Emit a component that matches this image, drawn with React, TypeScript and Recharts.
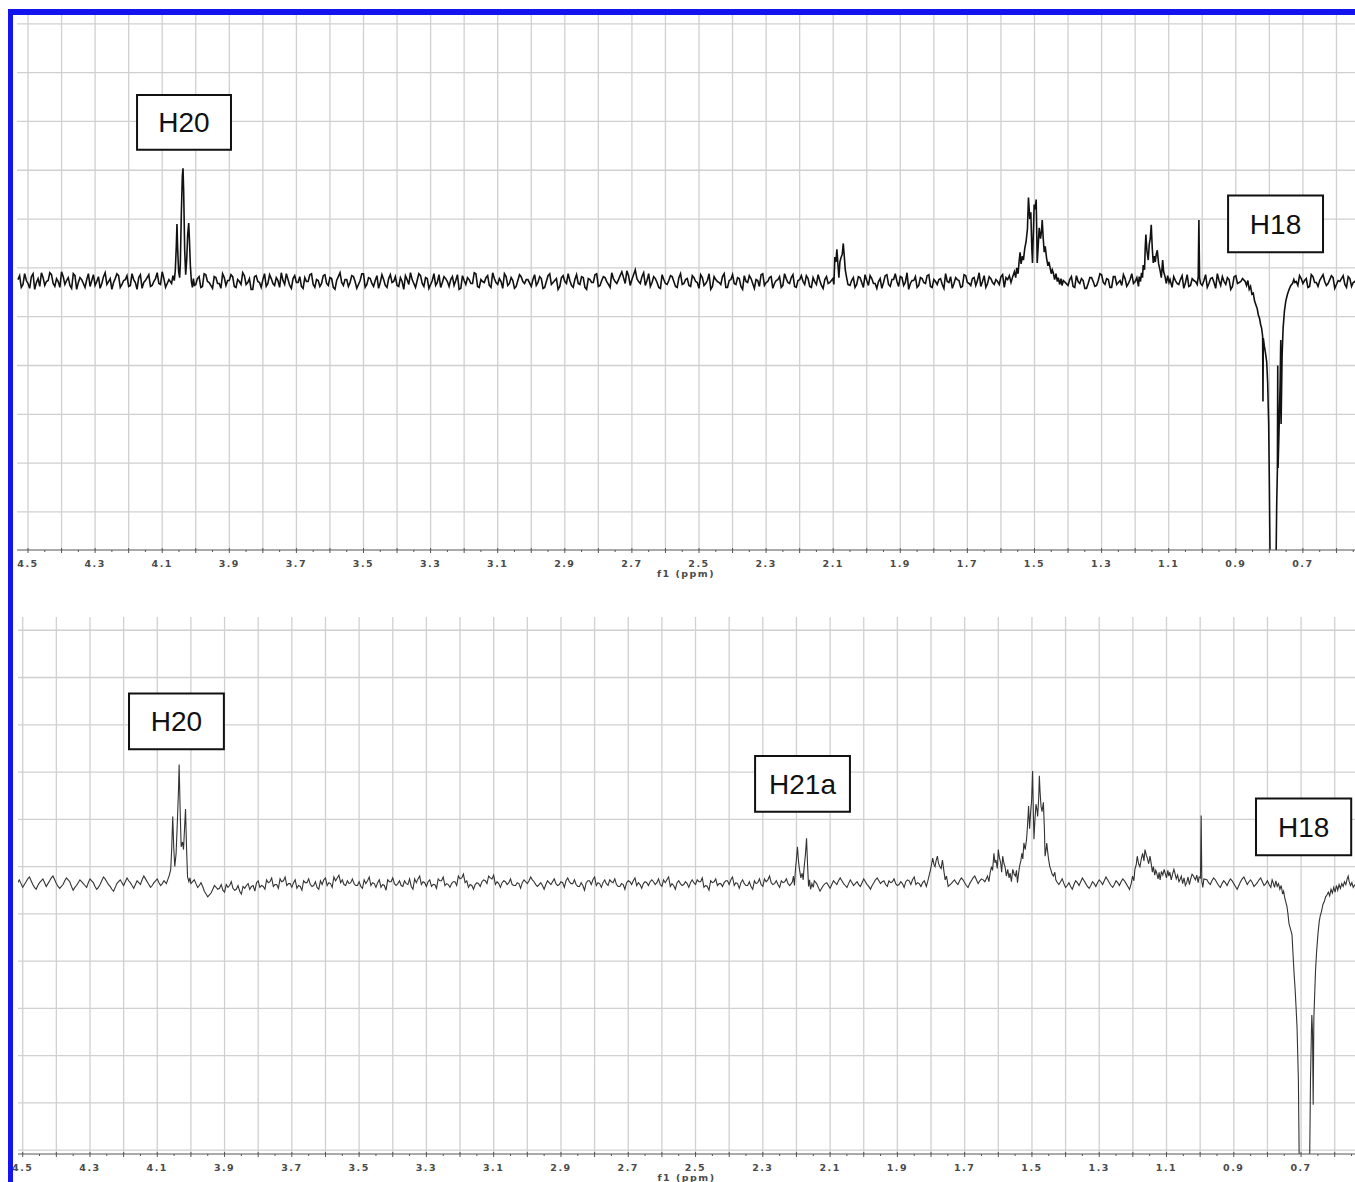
import React from 'react';
import { LineChart, Line, XAxis, YAxis, CartesianGrid, ReferenceArea } from 'recharts';

type Pair = [number, number];

// baseline noise: BASE arrays are sampled every 0.01 ppm from the segment start (descending),
// MID arrays hold the readings that sit halfway between two BASE samples
const STEP = 0.01;

// ---- top spectrum ----
const TOP_BASE_1 = [
  -12, -20, -6, -16, -9, -22, -11, -5, -18, -13,
  -7, -19, -14, -4, -17, -10, -21, -8, -15, -12,
  -20, -6, -13, -18, -9, -16, -5, -14, -22, -11,
  -8, -17, -12, -19, -6, -15, -10, -21, -13, -7,
  -18, -11, -16, -4, -20, -12,
];
const TOP_BASE_2 = [
  -17, -9, -19, -7, -15, -21, -10,
  -16, -6, -18, -13, -9, -20, -14, -5, -17, -11,
  -22, -8, -15, -12, -19, -7, -16, -10, -20, -13,
  -6, -18, -11, -15, -9, -21, -14, -7, -17, -12,
  -19, -8, -16, -10, -20, -13, -5, -18, -12, -15,
  -9, -21, -13, -6, -17, -11, -19, -8, -15, -12,
  -20, -7, -14, -18, -10, -22, -12, -5, -16, -13,
  -8, -19, -11, -17, -6, -15, -20, -9, -14, -12,
  -18, -7, -21, -13, -10, -16, -5, -19, -12, -15,
  -8, -20, -11, -17, -14, -6, -18, -10, -21, -13,
  -9, -16, -12,
];
const TOP_BASE_3 = [
  -19, -7, -15, -11, -20, -8, -17,
  -13, -22, -10, -14, -6, -18, -12, -16, -9, -20,
  -11, -15, -7, -19, -13, -10, -17, -5, -14, -12,
  -4, -16, -8, -12, -2, -14, -9, -18, -6, -15,
  -11, -20, -7, -16, -13, -9, -19, -10, -17, -12,
  -18, -8, -14, -21, -10, -16, -6, -19, -12, -15,
  -9, -20, -13, -7, -17, -11, -22, -14, -8, -16,
  -12, -19, -6, -15, -10, -21, -13, -9, -18, -11,
  -16, -7, -20, -12, -14, -8, -19, -10, -17, -13,
  -21, -9, -15,
];
const TOP_BASE_4 = [
  -18, -10,
  -17, -10, -20, -13, -8, -16, -21, -11, -15, -7,
  -19, -12, -14, -9, -18, -5, -16, -13, -20, -10,
  -15, -8, -19, -12, -17, -11, -21, -14, -9, -16,
  -12, -20, -7, -15, -18, -10, -13, -19, -8, -16,
  -11, -17, -14, -9, -20, -12, -15,
];
const TOP_BASE_5 = [
  -18, -9, -20, -14, -11, -21, -16,
  -10, -19, -13, -7, -17, -12, -20, -9, -15, -18,
  -11, -16, -6, -14, -19,
];
const TOP_BASE_6 = [-20, -13, -17, -8, -15, -19, -11, -14];
const TOP_BASE_7 = [-18, -7, -16, -10, -21, -13, -9, -17, -12, -19, -8, -15, -11];
const TOP_BASE_8 = [-14, -8, -16, -11, -19, -9, -15, -13, -7, -18, -12, -10, -17, -14, -8, -20, -11, -15, -12];
const TOP_BASE_START = [4.53, 4.0, 3.0, 2.05, 1.4, 1.09, 1.0, 0.72];

const TOP_MID_1 = [
  -8, -17, -13, -21, -6, -15, -19, -10, -14, -5,
  -16, -11, -20, -9, -13, -18, -6, -22, -10, -16,
  -12, -19, -7, -14, -21, -9, -17, -11, -15, -6,
  -20, -13, -8, -18, -12, -22, -7, -15, -10, -19,
  -14, -5, -17, -11, -16,
];
const TOP_MID_2 = [
  -11, -20, -6, -14, -18, -9, -16,
  -21, -10, -13, -7, -19, -12, -17, -8, -15, -22,
  -9, -14, -20, -6, -16, -11, -18, -13, -5, -17,
  -12, -21, -8, -15, -19, -10, -14, -6, -20, -13,
  -16, -7, -18, -11, -22, -9, -15, -12, -19, -8,
  -14, -17, -6, -20, -10, -16, -13, -21, -7, -18,
  -11, -15, -9, -19, -14, -8, -17, -12, -20, -6,
  -16, -10, -21, -13, -18, -7, -15, -11, -19, -9,
  -13, -22, -8, -17, -12, -16, -6, -20, -14, -10,
  -18, -5, -15, -11, -21, -9, -16, -13, -19, -7,
  -14, -12,
];
const TOP_MID_3 = [
  -12, -18, -9, -21, -14, -6,
  -15, -11, -19, -8, -16, -13, -20, -7, -17, -10,
  -22, -12, -15, -6, -18, -9, -14, -20, -11, -16,
  -8, -10, -3, -18, -7, -11, -16, -5, -13, -19,
  -9, -15, -21, -12, -17, -8, -14, -20, -6, -16,
  -11, -19, -10, -15, -7, -18, -13, -22, -9, -14,
  -17, -6, -20, -12, -16, -10, -19, -8, -15, -11,
  -21, -13, -7, -18, -14, -9, -16, -12, -20, -6,
  -15, -10, -19, -13, -8, -17, -11, -20, -14, -7, -18, -12, -16,
];
const TOP_MID_4 = [
  -13, -20, -9, -15, -7, -18, -11, -16, -14, -21,
  -8, -17, -12, -6, -19, -10, -15, -22, -13, -9,
  -18, -11, -16, -7, -20, -14, -12, -17, -6, -15,
  -21, -10, -13, -19, -8, -16, -11, -18, -5, -14,
  -20, -9, -15, -12, -17, -7, -10, -8,
];
const TOP_MID_5 = [-12, -19, -8, -16, -13, -21, -10, -14, -18, -6, -15, -11, -20, -9, -17, -13, -7, -19, -12, -16, -10];
const TOP_MID_6 = [-9, -16, -12, -21, -7, -18, -13];
const TOP_MID_7 = [-13, -20, -11, -15, -6, -18, -14, -10, -22, -9, -16, -14];
const TOP_MID_8 = [-18, -11, -13, -20, -7, -15, -19, -10, -14, -16, -8, -21, -13, -11, -17, -9, -19, -14];

const TOP_H20: Pair[] = [
  [4.072, -16], [4.068, -8], [4.064, -13], [4.061, -3], [4.058, 22], [4.056, 45], [4.054, 20],
  [4.051, -4], [4.048, -10], [4.046, 4], [4.043, 55], [4.04, 94], [4.038, 102], [4.036, 78],
  [4.033, 18], [4.03, -7], [4.027, 8], [4.024, 34], [4.021, 46], [4.019, 30], [4.016, 2],
  [4.013, -14], [4.01, -20], [4.007, -11], [4.004, -18],
];
const TOP_P208: Pair[] = [
  [2.101, -11], [2.098, -17], [2.095, 11], [2.092, 6], [2.089, 19], [2.086, 4], [2.083, -10],
  [2.08, 6], [2.077, 10], [2.073, 14], [2.07, 25], [2.067, 12], [2.064, -2], [2.06, -10], [2.056, -17],
];
const TOP_P150: Pair[] = [
  [1.565, -9], [1.56, -4], [1.556, -10], [1.553, 0], [1.549, -6], [1.546, 6], [1.543, 16],
  [1.54, 4], [1.536, 12], [1.533, 8], [1.529, 20], [1.525, 27], [1.521, 40], [1.518, 72],
  [1.514, 50], [1.511, 57], [1.508, 20], [1.506, 5], [1.503, 40], [1.501, 65], [1.498, 60],
  [1.495, 70], [1.493, 30], [1.492, 5], [1.489, 22], [1.486, 41], [1.482, 30], [1.479, 38],
  [1.477, 49], [1.474, 30], [1.471, 16], [1.468, 22], [1.464, 10], [1.46, 2], [1.457, 6],
  [1.454, 1], [1.45, -6], [1.447, -2], [1.444, -5], [1.44, -12], [1.436, -6], [1.432, -14],
  [1.429, -10], [1.425, -17], [1.421, -11], [1.418, -18], [1.414, -13],
];
const TOP_P116: Pair[] = [
  [1.188, -9], [1.184, -14], [1.181, -5], [1.178, -10], [1.176, 3], [1.172, -2], [1.17, 20],
  [1.168, 34], [1.165, 18], [1.161, 8], [1.158, 24], [1.155, 30], [1.152, 44], [1.149, 20],
  [1.146, 5], [1.143, 12], [1.14, 6], [1.137, 14], [1.134, 18], [1.13, 4], [1.126, -2],
  [1.122, -10], [1.118, 8], [1.115, -4], [1.111, -9], [1.107, -16], [1.103, -8], [1.099, -15], [1.096, -12],
];
const TOP_P101: Pair[] = [[1.015, -17], [1.012, -9], [1.01, 49], [1.008, -10], [1.005, -16]];
const TOP_H18: Pair[] = [
  [0.872, -14], [0.868, -18], [0.864, -13], [0.86, -22], [0.856, -19], [0.852, -27], [0.848, -26],
  [0.844, -34], [0.84, -38], [0.836, -42], [0.833, -48], [0.829, -52], [0.826, -58], [0.823, -62],
  [0.82, -70], [0.819, -137], [0.818, -72], [0.815, -80], [0.812, -86], [0.808, -96], [0.805, -118],
  [0.802, -160], [0.8, -220], [0.797, -330], [0.792, -460], [0.785, -460], [0.781, -330],
  [0.778, -240], [0.776, -207], [0.775, -100], [0.774, -205], [0.771, -165], [0.768, -120],
  [0.766, -74], [0.765, -160], [0.762, -90], [0.759, -62], [0.755, -44], [0.751, -34],
  [0.746, -27], [0.741, -22], [0.736, -18], [0.731, -16], [0.727, -12], [0.724, -15],
];

// ---- bottom spectrum ----
const BOT_BASE_1 = [
  -20, -14, -22, -16, -11, -19, -24, -17, -13, -21,
  -15, -10, -18, -23, -19, -12, -16, -25, -20, -14,
  -18, -22, -13, -17, -24, -19, -11, -16, -21, -26,
  -18, -14, -20, -12, -17, -23, -15, -19, -10, -16,
  -22, -17, -13, -20, -15,
];
const BOT_BASE_2 = [
  -18, -14, -22, -17, -26, -32, -28, -20,
  -24, -19, -27, -22, -16, -25, -20, -29, -23, -18,
  -21, -26, -15, -20, -24, -17, -12, -19, -23, -16,
  -11, -18, -22, -14, -20, -25, -17, -13, -21, -16,
  -24, -19, -12, -17, -22, -15, -9, -14, -20, -18,
  -13, -20, -16, -23, -18, -11, -17, -22, -14, -19,
  -25, -16, -12, -20, -15, -21, -18, -13, -24, -17,
  -10, -16, -21, -14, -19, -23, -15, -11, -18, -22,
  -16, -20, -13, -8, -15, -19, -24, -17, -21, -14,
  -18, -12, -9, -16, -22, -15, -19, -13, -20, -17,
  -23, -14,
];
const BOT_BASE_3 = [
  -18, -11, -16, -21, -17, -24, -15, -19,
  -13, -20, -16, -22, -12, -18, -14, -21, -17, -25,
  -15, -19, -11, -17, -22, -14, -20, -16, -13, -21,
  -18, -24, -15, -19, -12, -17, -23, -16, -20, -14,
  -19, -13, -21, -17, -11, -18, -24, -15, -20, -16,
  -22, -14, -19, -16, -12, -20, -25, -17, -13, -18,
  -21, -15, -19, -11, -17, -23, -14, -20, -16, -24,
  -18, -13, -21, -16, -10, -19, -15, -22, -17, -13,
  -20,
];
const BOT_BASE_4 = [
  -18, -26,
  -20, -17, -23, -15, -19, -12, -18, -22, -14, -20,
  -16, -21, -13, -19, -24, -17, -12, -18, -15, -21,
  -17, -13, -20, -16, -22, -14, -19, -11, -17, -21,
  -15,
];
const BOT_BASE_5 = [-18, -14, -19, -12, -17, -22, -15, -10, -18, -13, -16];
const BOT_BASE_6 = [
  -19, -13, -22, -17, -24, -15, -20, -12, -18, -23,
  -16, -21, -14, -19, -11, -17, -22, -15, -20, -13, -18, -24,
];
const BOT_BASE_7 = [-14, -19, -12, -17, -22, -15, -20, -13, -18, -24, -16, -11, -19, -14, -21, -17, -12, -20, -15, -22];
const BOT_BASE_START = [4.52, 4.0, 3.0, 2.14, 1.74, 1.42, 0.98];

const BOT_MID_1 = [
  -17, -18, -19, -13, -15, -22, -20, -15, -17, -18,
  -12, -14, -21, -21, -15, -14, -21, -22, -17, -16,
  -20, -17, -15, -21, -22, -15, -13, -19, -24, -22,
  -16, -17, -16, -15, -20, -19, -17, -14, -13, -19,
  -20, -15, -17, -18,
];
const BOT_MID_2 = [
  -16, -18, -20, -21, -29, -30, -24,
  -22, -23, -25, -19, -20, -23, -24, -26, -21, -20,
  -24, -20, -17, -22, -21, -14, -16, -21, -19, -13,
  -15, -20, -18, -17, -23, -21, -15, -17, -19, -20,
  -22, -15, -14, -20, -18, -11, -12, -17, -19, -15,
  -17, -18, -20, -21, -14, -15, -20, -18, -17, -22,
  -20, -14, -16, -18, -18, -20, -15, -19, -21, -13,
  -13, -19, -17, -16, -21, -19, -13, -15, -20, -19,
  -18, -16, -10, -12, -17, -22, -20, -19, -18, -16,
  -15, -10, -13, -19, -18, -17, -16, -17, -19, -20,
  -18, -17,
];
const BOT_MID_3 = [
  -15, -14, -19, -19, -20, -19, -17,
  -16, -18, -19, -17, -15, -16, -18, -19, -21, -20,
  -17, -15, -14, -20, -18, -17, -18, -14, -17, -19,
  -21, -19, -17, -16, -15, -20, -19, -18, -17, -16,
  -16, -17, -19, -14, -14, -21, -20, -17, -18, -19,
  -18, -17, -17, -14, -16, -22, -21, -15, -16, -20,
  -18, -17, -15, -14, -20, -18, -17, -18, -20, -21,
  -15, -17, -19, -13, -14, -17, -18, -19, -15, -16,
  -18,
];
const BOT_MID_4 = [
  -22, -23, -18, -20, -19, -17, -15, -15, -20, -18,
  -17, -18, -19, -17, -16, -21, -20, -14, -15, -16,
  -19, -15, -16, -18, -19, -18, -16, -15, -14, -19,
  -18, -17,
];
const BOT_MID_5 = [-16, -17, -15, -14, -20, -18, -12, -14, -15, -14];
const BOT_MID_6 = [-16, -18, -20, -21, -19, -17, -16, -15, -21, -20, -18, -17, -16, -15, -14, -20, -19, -17, -16, -15, -21];
const BOT_MID_7 = [-17, -15, -14, -20, -18, -17, -16, -15, -21, -20, -13, -15, -16, -17, -19, -14, -16, -18, -19];

const BOT_H20: Pair[] = [
  [4.073, -18], [4.068, -13], [4.064, -9], [4.06, -3], [4.057, 20], [4.054, 53], [4.051, 20],
  [4.048, 0], [4.044, 14], [4.04, 50], [4.037, 80], [4.035, 108], [4.032, 60], [4.029, 21],
  [4.025, 26], [4.022, 18], [4.019, 40], [4.016, 61], [4.013, 20], [4.01, -11], [4.006, -16], [4.003, -12],
];
const BOT_H21A: Pair[] = [
  [2.212, -16], [2.209, -10], [2.206, -20], [2.203, -3], [2.2, 8], [2.197, 21], [2.194, 6],
  [2.191, -3], [2.187, -12], [2.183, -7], [2.18, -14], [2.177, 0], [2.173, 14], [2.17, 30],
  [2.167, 2], [2.164, -21], [2.161, -14], [2.158, -24], [2.154, -18], [2.15, -22], [2.147, -15],
];
const BOT_P178: Pair[] = [
  [1.814, -21], [1.81, -16], [1.806, -10], [1.802, -4], [1.798, 3], [1.795, 9], [1.791, 2],
  [1.788, 0], [1.785, 6], [1.781, 11], [1.778, 4], [1.774, 0], [1.77, -2], [1.766, 7],
  [1.762, -4], [1.758, -14], [1.754, -10], [1.749, -21],
];
const BOT_P150: Pair[] = [
  [1.632, -10], [1.628, -16], [1.624, -6], [1.62, 0], [1.617, -4], [1.613, 14], [1.61, 4],
  [1.607, 7], [1.603, -2], [1.6, 18], [1.597, 10], [1.593, 4], [1.59, -6], [1.587, 11],
  [1.583, 3], [1.58, 0], [1.576, -10], [1.572, -3], [1.568, -12], [1.565, -7], [1.561, -16],
  [1.557, -3], [1.553, -8], [1.549, -10], [1.546, -4], [1.543, -17], [1.54, -8], [1.537, 0],
  [1.533, 6], [1.53, 14], [1.527, 8], [1.524, 25], [1.52, 18], [1.516, 29], [1.513, 44],
  [1.51, 64], [1.507, 40], [1.504, 57], [1.501, 70], [1.498, 101], [1.496, 60], [1.494, 29],
  [1.491, 50], [1.488, 66], [1.485, 60], [1.483, 53], [1.48, 72], [1.478, 96], [1.476, 80],
  [1.473, 64], [1.47, 58], [1.466, 68], [1.463, 40], [1.461, 11], [1.458, 18], [1.456, 25],
  [1.453, 15], [1.451, 9], [1.447, 0], [1.444, -3], [1.44, -8], [1.436, -10], [1.432, -6],
  [1.429, -14], [1.426, -16],
];
const BOT_P117: Pair[] = [
  [1.205, -18], [1.201, -10], [1.197, -15], [1.194, -3], [1.19, 2], [1.187, 11], [1.183, 3],
  [1.179, 0], [1.175, 8], [1.171, 14], [1.167, 6], [1.164, 18], [1.16, 12], [1.157, 9],
  [1.153, 3], [1.149, 11], [1.145, 2], [1.142, -6], [1.139, 0], [1.135, -9], [1.132, -4],
  [1.129, -7], [1.125, -13], [1.122, -6], [1.119, -14], [1.115, -5], [1.111, -9], [1.107, -3],
  [1.104, -7], [1.1, -12], [1.096, -4], [1.093, -10], [1.09, -6], [1.086, -14], [1.082, -8],
  [1.078, -3], [1.075, -7], [1.071, -13], [1.067, -9], [1.063, -16], [1.06, -14], [1.056, -10],
  [1.052, -18], [1.048, -12], [1.044, -20], [1.04, -17], [1.036, -11], [1.032, -19], [1.028, -13],
  [1.024, -8], [1.02, -10],
];
const BOT_P100: Pair[] = [
  [1.014, -14], [1.01, -9], [1.006, -17], [1.003, -11], [0.999, -12], [0.997, 54], [0.995, -16],
  [0.992, -22], [0.989, -13],
];
const BOT_H18: Pair[] = [
  [0.786, -14], [0.783, -17], [0.779, -22], [0.775, -15], [0.771, -21], [0.767, -18], [0.763, -24],
  [0.759, -20], [0.755, -29], [0.752, -26], [0.748, -34], [0.745, -38], [0.742, -42], [0.739, -50],
  [0.736, -60], [0.733, -64], [0.73, -68], [0.727, -72], [0.724, -92], [0.721, -112], [0.718, -128],
  [0.715, -148], [0.712, -170], [0.708, -225], [0.705, -330], [0.7, -460], [0.68, -460],
  [0.675, -330], [0.672, -225], [0.669, -170], [0.668, -157], [0.666, -175], [0.664, -252],
  [0.662, -160], [0.66, -140], [0.657, -110], [0.654, -91], [0.65, -72], [0.646, -58],
  [0.643, -52], [0.639, -47], [0.635, -40], [0.631, -37], [0.627, -32], [0.623, -30],
  [0.619, -27], [0.615, -31], [0.611, -24], [0.607, -28], [0.603, -22], [0.599, -27],
  [0.595, -20], [0.591, -25], [0.587, -19], [0.583, -23], [0.579, -18], [0.575, -21],
  [0.571, -16], [0.567, -19], [0.563, -13], [0.56, -10], [0.557, -16], [0.553, -20],
  [0.549, -17], [0.545, -22], [0.54, -19],
];

// axis
const AXIS_LABELS = [4.5, 4.3, 4.1, 3.9, 3.7, 3.5, 3.3, 3.1, 2.9, 2.7, 2.5, 2.3, 2.1, 1.9, 1.7, 1.5, 1.3, 1.1, 0.9, 0.7];
const GRID_PPM = [
  4.5, 4.4, 4.3, 4.2, 4.1, 4.0, 3.9, 3.8, 3.7, 3.6, 3.5, 3.4, 3.3, 3.2, 3.1, 3.0, 2.9, 2.8, 2.7, 2.6,
  2.5, 2.4, 2.3, 2.2, 2.1, 2.0, 1.9, 1.8, 1.7, 1.6, 1.5, 1.4, 1.3, 1.2, 1.1, 1.0, 0.9, 0.8, 0.7, 0.6,
];
const Y_GRID = [-300, -250, -200, -150, -100, -50, 0, 50, 100, 150, 200, 250];

const TOP_LABELS = [
  { text: 'H20', x1: 4.175, x2: 3.895, y1: 121, y2: 177 },
  { text: 'H18', x1: 0.923, x2: 0.64, y1: 16, y2: 74 },
];
const BOT_LABELS = [
  { text: 'H20', x1: 4.184, x2: 3.902, y1: 124, y2: 183 },
  { text: 'H21a', x1: 2.323, x2: 2.041, y1: 58, y2: 117 },
  { text: 'H18', x1: 0.834, x2: 0.551, y1: 12, y2: 72 },
];

const buildSpectrum = (starts: number[], bases: number[][], mids: number[][], peaks: Pair[][]) => {
  const rows: { ppm: number; y: number }[] = [];
  bases.forEach((values, s) => {
    values.forEach((v, i) => rows.push({ ppm: +(starts[s] - i * STEP).toFixed(3), y: v }));
  });
  mids.forEach((values, s) => {
    values.forEach((v, i) => rows.push({ ppm: +(starts[s] - STEP / 2 - i * STEP).toFixed(4), y: v }));
  });
  peaks.forEach((group) => group.forEach(([ppm, y]) => rows.push({ ppm, y })));
  return rows.sort((a, b) => b.ppm - a.ppm);
};

const topData = buildSpectrum(
  TOP_BASE_START,
  [TOP_BASE_1, TOP_BASE_2, TOP_BASE_3, TOP_BASE_4, TOP_BASE_5, TOP_BASE_6, TOP_BASE_7, TOP_BASE_8],
  [TOP_MID_1, TOP_MID_2, TOP_MID_3, TOP_MID_4, TOP_MID_5, TOP_MID_6, TOP_MID_7, TOP_MID_8],
  [TOP_H20, TOP_P208, TOP_P150, TOP_P116, TOP_P101, TOP_H18],
);
const botData = buildSpectrum(
  BOT_BASE_START,
  [BOT_BASE_1, BOT_BASE_2, BOT_BASE_3, BOT_BASE_4, BOT_BASE_5, BOT_BASE_6, BOT_BASE_7],
  [BOT_MID_1, BOT_MID_2, BOT_MID_3, BOT_MID_4, BOT_MID_5, BOT_MID_6, BOT_MID_7],
  [BOT_H20, BOT_H21A, BOT_P178, BOT_P150, BOT_P117, BOT_P100, BOT_H18],
);

const X_TICKS = [...GRID_PPM, ...GRID_PPM.map((v) => +(v - 0.05).toFixed(2))].sort((a, b) => b - a);

const PpmTick = (props: any) => {
  const { x, y, payload } = props;
  const v = Math.round(payload.value * 100);
  const major = v % 10 === 0;
  const labelled = AXIS_LABELS.some((l) => Math.round(l * 100) === v);
  return (
    <g>
      <line x1={x} x2={x} y1={y - (major ? 2 : 0)} y2={y + (major ? 3 : 2)} stroke="#555" strokeWidth={1} />
      {labelled && (
        <text
          x={x}
          y={y + 17}
          textAnchor="middle"
          fontSize={9.5}
          fontWeight="bold"
          letterSpacing={1.5}
          fontFamily="DejaVu Sans, Verdana, sans-serif"
          fill="#4a4a4a"
        >
          {payload.value.toFixed(1)}
        </text>
      )}
    </g>
  );
};

interface SpectrumProps {
  data: { ppm: number; y: number }[];
  xDomain: [number, number];
  yDomain: [number, number];
  plotHeight: number;
  axisHeight: number;
  marginLeft: number;
  labelOffset: number;
  labels: { text: string; x1: number; x2: number; y1: number; y2: number }[];
  stroke: string;
  strokeWidth: number;
}

const Spectrum: React.FC<SpectrumProps> = ({
  data, xDomain, yDomain, plotHeight, axisHeight, marginLeft, labelOffset, labels, stroke, strokeWidth,
}) => {
  const inX = (v: number) => v >= xDomain[0] && v <= xDomain[1];
  return (
    <LineChart
      width={1342}
      height={plotHeight + axisHeight}
      data={data}
      margin={{ top: 0, right: 0, bottom: 0, left: marginLeft }}
    >
      <CartesianGrid
        stroke="#d0d0d0"
        strokeWidth={1.3}
        verticalValues={GRID_PPM.filter(inX)}
        horizontalValues={Y_GRID.filter((v) => v > yDomain[0] && v < yDomain[1])}
      />
      <XAxis
        type="number"
        dataKey="ppm"
        domain={xDomain}
        reversed
        allowDataOverflow
        ticks={X_TICKS.filter(inX)}
        interval={0}
        tickLine={false}
        tickSize={0}
        tickMargin={0}
        tick={(p: any) => <PpmTick {...p} />}
        height={axisHeight}
        stroke="#555"
        label={{
          value: 'f1 (ppm)',
          position: 'insideBottom',
          offset: labelOffset,
          fontSize: 9.5,
          fontWeight: 'bold',
          letterSpacing: 1.5,
          fontFamily: 'DejaVu Sans, Verdana, sans-serif',
          fill: '#4a4a4a',
        }}
      />
      <YAxis hide type="number" domain={yDomain} allowDataOverflow />
      {labels.map((b) => (
        <ReferenceArea
          key={b.text}
          x1={b.x1}
          x2={b.x2}
          y1={b.y1}
          y2={b.y2}
          fill="#fff"
          fillOpacity={1}
          stroke="#111"
          strokeWidth={2}
          label={{
            value: b.text,
            position: 'center',
            fontSize: 28,
            fill: '#111',
            fontFamily: 'Liberation Sans, Arial, sans-serif',
          }}
        />
      ))}
      <Line
        type="linear"
        dataKey="y"
        stroke={stroke}
        strokeWidth={strokeWidth}
        dot={false}
        isAnimationActive={false}
      />
    </LineChart>
  );
};

export default function App() {
  return (
    <div
      style={{
        position: 'absolute',
        left: 0,
        top: 0,
        width: 1355,
        height: 1182,
        overflow: 'hidden',
        background: '#fff',
        fontFamily: 'DejaVu Sans, sans-serif',
      }}
    >
      <div style={{ position: 'absolute', left: 13, top: 15 }}>
        <Spectrum
          data={topData}
          xDomain={[0.5447, 4.5328]}
          yDomain={[-289, 259]}
          plotHeight={535}
          axisHeight={30}
          marginLeft={4}
          labelOffset={3}
          labels={TOP_LABELS}
          stroke="#111"
          strokeWidth={1.6}
        />
      </div>
      <div style={{ position: 'absolute', left: 13, top: 617 }}>
        <Spectrum
          data={botData}
          xDomain={[0.5397, 4.514]}
          yDomain={[-304, 264]}
          plotHeight={537}
          axisHeight={28}
          marginLeft={5}
          labelOffset={1}
          labels={BOT_LABELS}
          stroke="#333"
          strokeWidth={1.1}
        />
      </div>
      <div
        style={{
          position: 'absolute',
          left: 8,
          top: 9,
          width: 1400,
          height: 1200,
          borderTop: '6px solid #1414ee',
          borderLeft: '5px solid #1414ee',
          pointerEvents: 'none',
        }}
      />
    </div>
  );
}
